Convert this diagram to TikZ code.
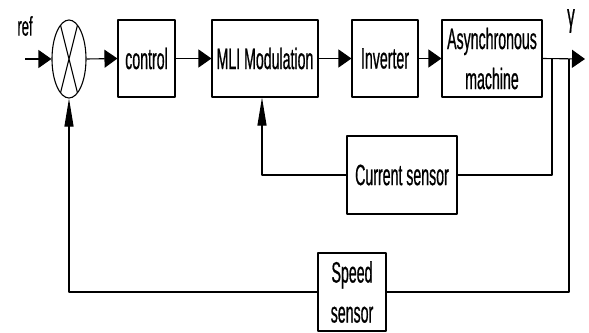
\documentclass[tikz,border=0pt]{standalone}
\usepackage{fontspec}
\setmainfont{Liberation Sans}[FakeStretch=0.48,FakeBold=0.6]
\usetikzlibrary{arrows.meta,shapes.geometric}
\begin{document}
\begin{tikzpicture}[x=1pt,y=-1pt,line join=round,line width=1.1pt,
 box/.style={draw,rectangle,inner sep=0pt,minimum height=77pt,align=center,font=\fontsize{29.5}{40}\selectfont},
 harrow/.style={-{Triangle[length=13pt,width=18pt]}},
 varrow/.style={-{Triangle[length=28pt,width=9pt]}}]
 \useasboundingbox (0,0) rectangle (589,332);
 % summing junction
 \node[draw,ellipse,inner sep=0pt,minimum width=34pt,minimum height=78pt](sum) at (69,59){};
 \draw ([shift={(sum.center)}]60:17 and 39)--([shift={(sum.center)}]240:17 and 39)
 ([shift={(sum.center)}]120:17 and 39)--([shift={(sum.center)}]300:17 and 39);
 % forward chain
 \node[box,minimum width=57pt](ctrl) at (146.5,58.5){control};
 \node[box,minimum width=106pt](mli) at (265,58.5){MLI Modulation};
 \node[box,minimum width=66pt](inv) at (385,58.5){Inverter};
 \node[box,minimum width=100pt](mas) at (492,58.5){Asynchronous\\machine};
 % sensors
 \node[box,minimum width=110pt,minimum height=78pt](cur) at (402,175){Current sensor};
 \node[box,minimum width=68pt,minimum height=78pt](spd) at (352,292){Speed\\sensor};
 \node[font=\fontsize{27}{30}\selectfont](ref) at (25,26){ref};
 \node[font=\fontsize{32}{36}\selectfont](gam) at (571,21){γ};
 \coordinate (in) at (25,59);
 \coordinate (out) at (585,59);
 \coordinate (ci) at (552,59);
 \coordinate (si) at (569,59);
 \draw[harrow](in)--(sum.west);
 \draw[harrow](sum.east)--(ctrl.west);
 \draw[harrow](ctrl.east)--(mli.west);
 \draw[harrow](mli.east)--(inv.west);
 \draw[harrow](inv.east)--(mas.west);
 \draw[harrow](mas.east)--(out);
 % feedback loops
 \draw(ci)|-(cur.east);
 \draw[varrow](cur.west)-|([xshift=-3pt]mli.south);
 \draw(si)|-(spd.east);
 \draw[varrow](spd.west)-|(sum.south);
\end{tikzpicture}
\end{document}
